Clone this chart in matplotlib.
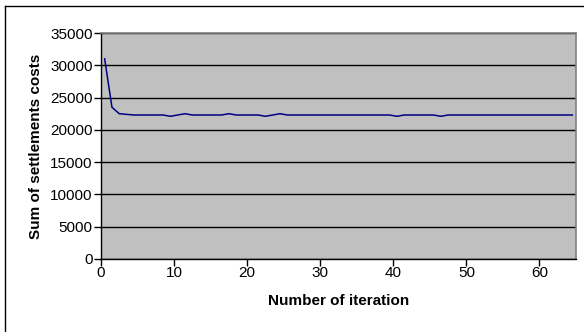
import matplotlib.pyplot as plt
from matplotlib.lines import Line2D

plt.rcParams['font.family'] = ['Liberation Sans', 'DejaVu Sans']

# sum of settlement costs per iteration (categories 0..64)
iterations = list(range(65))
costs = [31000, 23500, 22500, 22400, 22300, 22300, 22300, 22300, 22300, 22100,
         22300, 22500, 22300, 22300, 22300, 22300, 22300, 22500, 22300, 22300,
         22300, 22300, 22100, 22300, 22500, 22300, 22300, 22300, 22300, 22300,
         22300, 22300, 22300, 22300, 22300, 22300, 22300, 22300, 22300, 22300,
         22100, 22300, 22300, 22300, 22300, 22300, 22100, 22300, 22300, 22300,
         22300, 22300, 22300, 22300, 22300, 22300, 22300, 22300, 22300, 22300,
         22300, 22300, 22300, 22300, 22300]
x_ticks = [0, 10, 20, 30, 40, 50, 60]
y_ticks = [0, 5000, 10000, 15000, 20000, 25000, 30000, 35000]

fig = plt.figure(figsize=(5.84, 3.32), dpi=100)
fig.patch.set_facecolor('white')
# chart-area border, only left and top edges are inside the crop
bx, by = 4.5 / 584, 1 - 5.5 / 332
fig.add_artist(Line2D([bx, bx], [0, by], transform=fig.transFigure,
                      color='black', linewidth=1.0))
fig.add_artist(Line2D([bx, 1], [by, by], transform=fig.transFigure,
                      color='black', linewidth=1.0))

ax = fig.add_axes([101 / 584, 1 - 259 / 332, 475 / 584, 226 / 332])
ax.set_facecolor('#C0C0C0')

# line chart: categories sit between tick marks
xs = [i + 0.5 for i in iterations]
ax.plot(xs, costs, color='#000080', linewidth=1.1, zorder=3)

ax.set_xlim(0, 65)
ax.set_ylim(0, 35000)
ax.set_xticks(x_ticks)
ax.set_yticks(y_ticks)
ax.yaxis.grid(True, color='black', linewidth=1.0)
ax.set_axisbelow(True)

for side in ('top', 'right'):
    ax.spines[side].set_color('#808080')
    ax.spines[side].set_linewidth(1.2)
for side in ('left', 'bottom'):
    ax.spines[side].set_color('black')
    ax.spines[side].set_linewidth(1.0)

ax.tick_params(axis='both', direction='out', length=5, width=1,
               labelsize=11, colors='black')
ax.tick_params(axis='x', pad=0)
ax.tick_params(axis='y', pad=1)

ax.set_xlabel('Number of iteration', fontsize=11, fontweight='bold', labelpad=10)
ax.set_ylabel('Sum of settlements costs', fontsize=11, fontweight='bold', labelpad=5)

fig.savefig('out.png', dpi=100)
